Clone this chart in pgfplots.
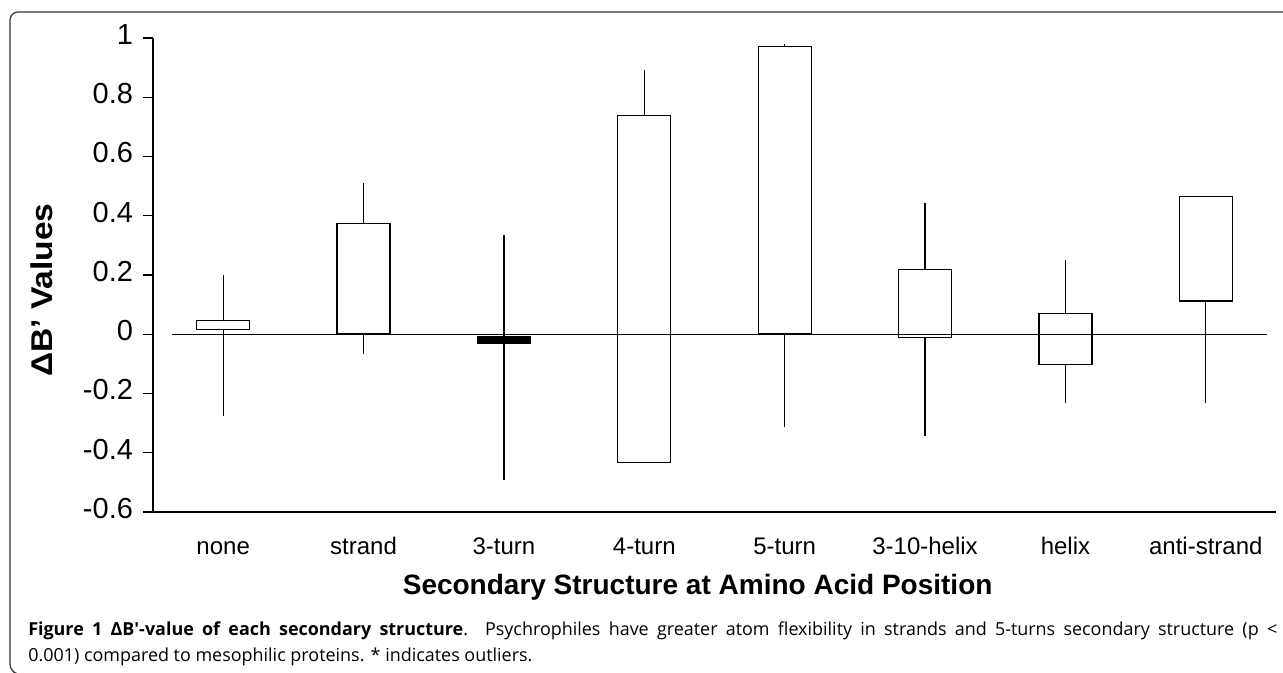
\documentclass[border=0pt]{standalone}
\usepackage{fontspec}
\setmainfont{Liberation Sans}
\newfontfamily\capfont{Open Sans}
\usepackage{pgfplots}
\pgfplotsset{compat=1.18}
\usepgfplotslibrary{statistics}

\begin{document}
\begin{tikzpicture}
\path[use as bounding box] (0,0) rectangle (962.25pt,504.75pt);
\draw[line width=0.9pt, black!80, rounded corners=6pt] (975pt,495.75pt) -- (7.5pt,495.75pt) -- (7.5pt,0.5pt) -- (10pt,0pt);

\begin{axis}[
  at={(114.75pt,120.75pt)}, anchor=south west,
  width=842.25pt, height=355.5pt, scale only axis,
  xmin=0, xmax=8, ymin=-0.6, ymax=1,
  axis x line=bottom, axis y line=left,
  axis line style={-, line width=0.9pt},
  tick align=outside,
  ytick={-0.6,-0.4,...,1.01},
  yticklabels={-0.6,-0.4,-0.2,0,0.2,0.4,0.6,0.8,1},
  major tick length=7.5pt,
  every tick/.style={black, line width=0.9pt},
  xtick={0.5,1.5,...,7.5},
  xticklabels={none,strand,3-turn,4-turn,5-turn,3-10-helix,helix,anti-strand},
  typeset ticklabels with strut,
  xtick style={draw=none},
  minor xtick={0,1,...,8},
  minor tick length=6pt,
  yticklabel style={font=\fontsize{21.75pt}{24pt}\selectfont, xshift=-4pt},
  xticklabel style={font=\fontsize{18pt}{20pt}\selectfont, yshift=-7pt},
  xlabel={Secondary Structure at Amino Acid Position},
  xlabel style={font=\bfseries\fontsize{21pt}{24pt}\selectfont, at={(rel axis cs:0.485,0)}, anchor=center, yshift=-56.25pt},
  ylabel={\scalebox{1.12}[1]{ΔB' Values}},
  ylabel style={font=\bfseries\fontsize{22.5pt}{24pt}\selectfont, at={(rel axis cs:-0.0988,0.468)}, anchor=center},
  boxplot/draw direction=y,
  boxplot/box extend=0.378,
  boxplot/whisker extend=0,
  boxplot/draw/median/.code={},
  clip=false,
]
\addplot[black, line width=0.9pt, fill=white, boxplot prepared={draw position=0.5, lower whisker=-0.277, lower quartile=0.017, median=0.017, upper quartile=0.047, upper whisker=0.200}] coordinates {};
\addplot[black, line width=0.9pt, fill=white, boxplot prepared={draw position=1.5, lower whisker=-0.068, lower quartile=0.003, median=0.003, upper quartile=0.375, upper whisker=0.510}] coordinates {};
\addplot[black, line width=0.9pt, fill=black, boxplot prepared={draw position=2.5, lower whisker=-0.493, lower quartile=-0.030, median=-0.030, upper quartile=-0.007, upper whisker=0.334}] coordinates {};
\addplot[black, line width=0.9pt, fill=white, boxplot prepared={draw position=3.5, lower whisker=-0.432, lower quartile=-0.432, median=-0.432, upper quartile=0.739, upper whisker=0.891}] coordinates {};
\addplot[black, line width=0.9pt, fill=white, boxplot prepared={draw position=4.5, lower whisker=-0.314, lower quartile=0.003, median=0.003, upper quartile=0.972, upper whisker=0.979}] coordinates {};
\addplot[black, line width=0.9pt, fill=white, boxplot prepared={draw position=5.5, lower whisker=-0.344, lower quartile=-0.010, median=-0.010, upper quartile=0.219, upper whisker=0.443}] coordinates {};
\addplot[black, line width=0.9pt, fill=white, boxplot prepared={draw position=6.5, lower whisker=-0.232, lower quartile=-0.101, median=-0.101, upper quartile=0.070, upper whisker=0.250}] coordinates {};
\addplot[black, line width=0.9pt, fill=white, boxplot prepared={draw position=7.5, lower whisker=-0.232, lower quartile=0.112, median=0.112, upper quartile=0.464, upper whisker=0.464}] coordinates {};
\addplot[black, line width=0.9pt, no marks] coordinates {(0.135,0) (7.936,0)};
\end{axis}

\node[anchor=base west, inner sep=0pt, font=\capfont\fontsize{13.45pt}{16pt}\selectfont] at (21pt,27.75pt)
  {\makebox[936.75pt][s]{\textbf{Figure 1 ΔB′-value of each secondary structure}. Psychrophiles have greater atom flexibility in strands and 5-turns secondary structure (p <}};
\node[anchor=base west, inner sep=0pt, font=\capfont\fontsize{13.45pt}{16pt}\selectfont] at (21pt,8.25pt)
  {0.001) compared to mesophilic proteins. * indicates outliers.};
\end{tikzpicture}
\end{document}
